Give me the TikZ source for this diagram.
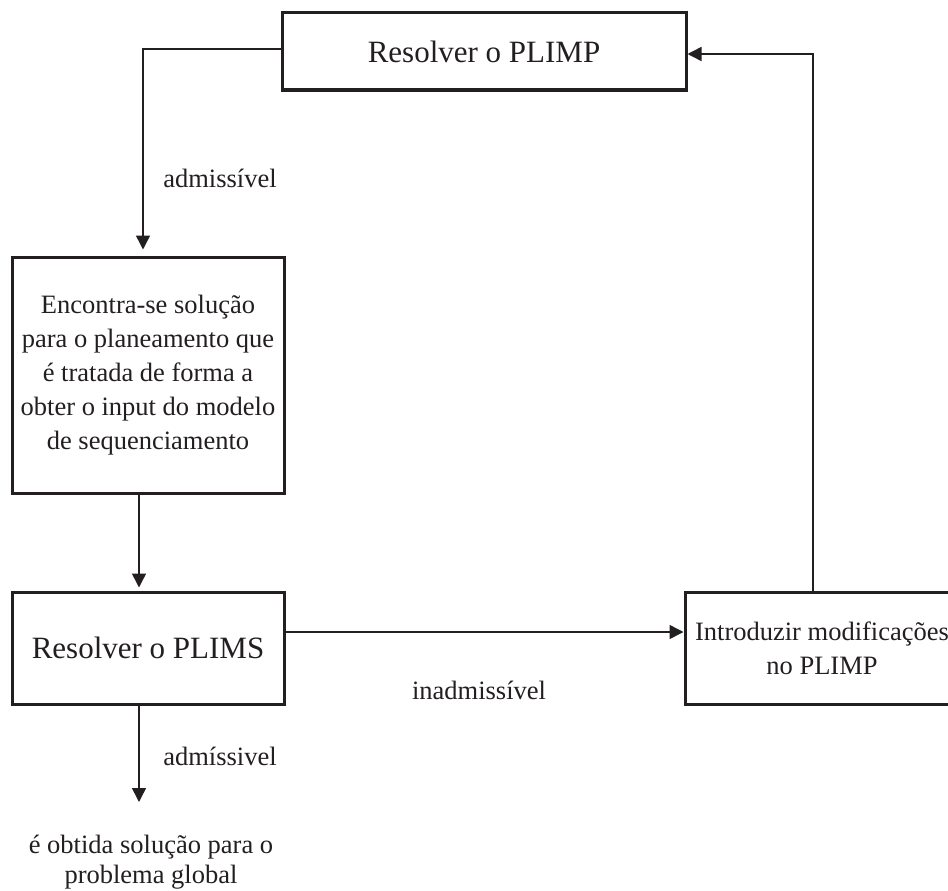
\documentclass[tikz,border=0pt]{standalone}
\usepackage{fontspec}
\setmainfont{Liberation Serif}
\usetikzlibrary{arrows.meta}
\definecolor{ink}{RGB}{35,31,32}
\tikzset{
  box/.style={draw=ink, line width=3pt, inner sep=0pt, align=center, text=ink},
  conn/.style={draw=ink, line width=1.5pt},
  arr/.style={conn, -{Triangle[length=14pt,width=14pt]}},
  big/.style={font=\fontsize{31}{37}\selectfont},
  small/.style={font=\fontsize{26.5}{34}\selectfont, text=ink, align=center},
}
\begin{document}
\begin{tikzpicture}[x=1pt,y=-1pt]
\useasboundingbox (0,0) rectangle (948,891);
\node[box, big, minimum width=404pt, minimum height=77pt] (t) at (484,51.5) {Resolver o PLIMP};
\node[box, small, minimum width=272pt, minimum height=236pt] (e) at (148,375)
  {Encontra-se solução\\para o planeamento que\\é tratada de forma a\\obter o input do modelo\\de sequenciamento};
\node[box, big, minimum width=272pt, minimum height=112pt] (s) at (148,648) {Resolver o PLIMS};
\node[box, small, minimum width=274pt, minimum height=112pt] (r) at (822,648) {Introduzir modificações\\no PLIMP};
\node[small, font=\fontsize{26.5}{30}\selectfont, inner sep=0pt] (f) at (151,862) {é obtida solução para o\\problema global};
\coordinate (fend) at (139,802);
\node[small] (l1) at (220,178) {admissível};
\node[small] (l2) at (220,756) {admíssivel};
\node[small] (l3) at (479,690) {inadmissível};
\draw[arr, shorten >=6pt] ([yshift=2.5pt]t.west) -| ([xshift=-5pt]e.north);
\draw[arr, shorten >=3pt] ([xshift=-9pt]e.south) -- ([xshift=-9pt]s.north);
\draw[arr] ([yshift=16pt]s.east) -- ([yshift=16pt]r.west);
\draw[arr] ([xshift=-9pt]r.north) |- ([yshift=-2.5pt]t.east);
\draw[arr] ([xshift=-9pt]s.south) -- (fend);
\end{tikzpicture}
\end{document}
